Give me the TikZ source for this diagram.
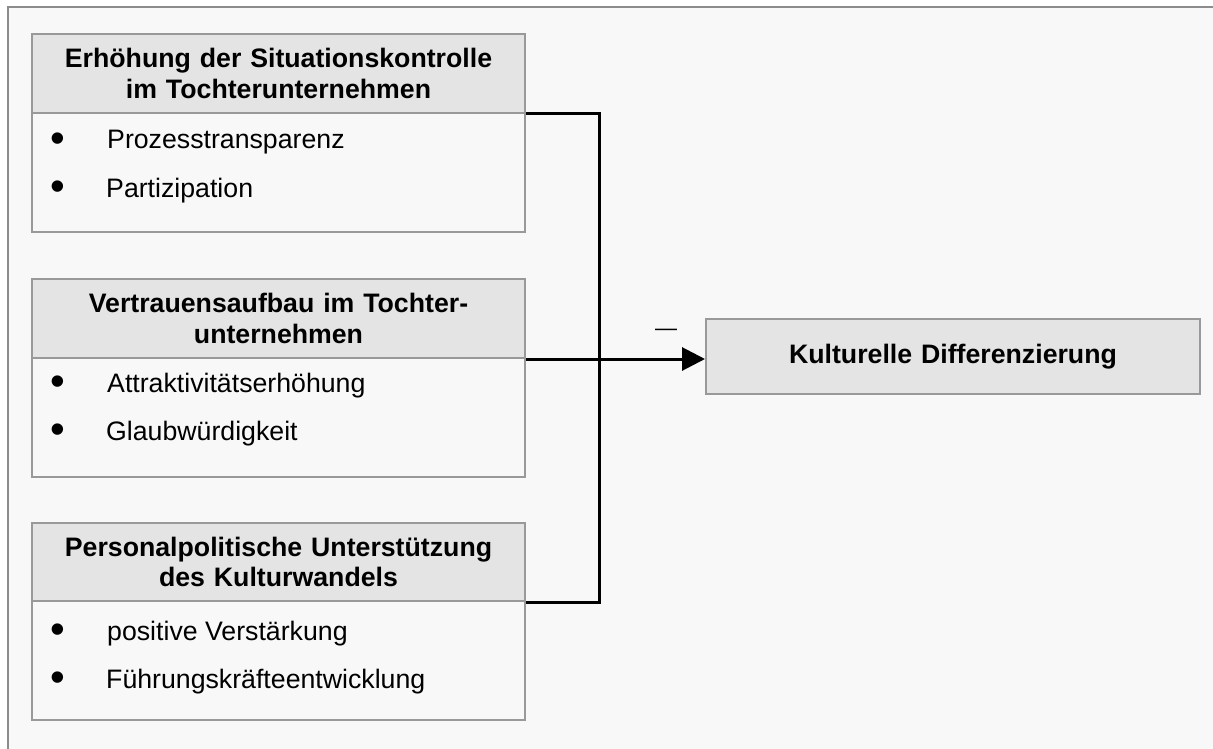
\documentclass[tikz,border=0pt]{standalone}
\usepackage{fontspec}
\setmainfont{Liberation Sans}
\usetikzlibrary{arrows.meta}
\definecolor{bggray}{HTML}{F8F8F8}
\definecolor{hdrgray}{HTML}{E4E4E4}
\definecolor{linegray}{HTML}{999999}
\definecolor{framegray}{HTML}{8C8C8C}
\begin{document}
\begin{tikzpicture}[x=1pt,y=-1pt,
 hdr/.style={draw=linegray, line width=2pt, fill=hdrgray, minimum width=493pt, minimum height=79pt, anchor=north west, inner sep=0pt, align=center, text width=480pt, font=\fontsize{26.7}{30.5}\selectfont\bfseries},
 bdy/.style={draw=linegray, line width=2pt, fill=bggray, minimum width=493pt, minimum height=119pt, anchor=north west, inner sep=0pt},
 item/.style={anchor=base west, inner sep=0pt, font=\fontsize{26.7}{30.5}\selectfont},
 dot/.style={anchor=base, inner sep=0pt, font=\fontsize{42}{44}\selectfont},
 conn/.style={line width=3pt, black},
]
\useasboundingbox (0,0) rectangle (1213,749);
\fill[white] (0,0) rectangle (1213,749);
\fill[bggray] (8,7) rectangle (1213,749);
\draw[framegray, line width=1.5pt] (8,749) -- (8,7) -- (1213,7);

% box 1
\node[bdy] (b1) at (31,112) {};
\node[hdr] (h1) at (31,33) {Erhöhung der Situationskontrolle\\im Tochterunternehmen};
\node[dot] (d11) at (58,152.5) {•};
\node[item] (t11) at (107,149) {Prozesstransparenz};
\node[dot] (d12) at (58,200.5) {•};
\node[item] (t12) at (106,197) {Partizipation};

% box 2
\node[bdy] (b2) at (31,357) {};
\node[hdr] (h2) at (31,278) {Vertrauensaufbau im Tochter-\\unternehmen};
\node[dot] (d21) at (58,395.5) {•};
\node[item] (t21) at (107,392) {Attraktivitätserhöhung};
\node[dot] (d22) at (58,443.5) {•};
\node[item] (t22) at (106,440) {Glaubwürdigkeit};

% box 3
\node[bdy] (b3) at (31,600) {};
\node[hdr, minimum height=78pt] (h3) at (31,522) {Personalpolitische Unterstützung\\des Kulturwandels};
\node[dot] (d31) at (58,643.5) {•};
\node[item] (t31) at (107,640) {positive Verstärkung};
\node[dot] (d32) at (58,691.5) {•};
\node[item] (t32) at (106,688) {Führungskräfteentwicklung};

% target
\node[hdr, minimum width=494pt, minimum height=75pt, text width=480pt] (tgt) at (705,318) {Kulturelle Differenzierung};

% connectors
\coordinate (bus) at (599,357);
\draw[conn] (h1.south east) -| (bus) |- (h3.south east);
\draw[conn, -{Triangle[length=23pt, width=23pt]}] (h2.south east) -- (h2.south east -| tgt.west);
\node[anchor=base, inner sep=0pt, font=\fontsize{22}{24}\selectfont] (minus) at (666,335) {—};
\end{tikzpicture}
\end{document}
